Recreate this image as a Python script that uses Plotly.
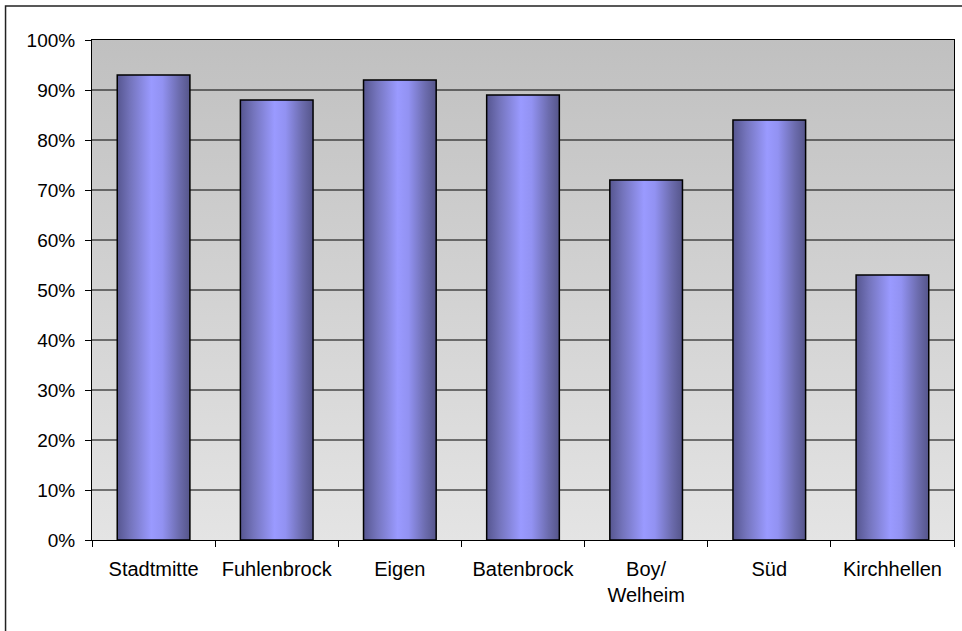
import plotly.graph_objects as go

# Share per district (fraction of 1)
districts = ["Stadtmitte", "Fuhlenbrock", "Eigen", "Batenbrock", "Boy/<br>Welheim", "Süd", "Kirchhellen"]
shares = [0.93, 0.88, 0.92, 0.89, 0.72, 0.84, 0.53]
y_ticks = [0.0, 0.1, 0.2, 0.3, 0.4, 0.5, 0.6, 0.7, 0.8, 0.9, 1.0]

FONT = "Liberation Sans, Arial, sans-serif"
BAR_HALF = 0.295
BAR_SCALE = [[0.0, "#565690"], [0.18, "#7474bc"], [0.47, "#9a9aff"],
             [0.62, "#9292f2"], [0.85, "#6c6cae"], [1.0, "#55558a"]]
BG_SCALE = [[0.0, "#e4e4e4"], [1.0, "#c0c0c0"]]

x_lo, x_hi = -0.5, len(districts) - 0.5
idx = list(range(len(districts)))

fig = go.Figure()

# Plain bars (base layer)
fig.add_trace(go.Bar(x=idx, y=shares, width=2 * BAR_HALF, marker=dict(color="#8080d8", line=dict(width=0)),
                     showlegend=False, hoverinfo="skip"))

# Plot-area background with vertical grey gradient
fig.add_trace(go.Scatter(
    x=[x_lo, x_hi, x_hi, x_lo, x_lo], y=[0, 0, 1, 1, 0],
    mode="lines", fill="toself", line=dict(width=0),
    fillgradient=dict(type="vertical", colorscale=BG_SCALE),
    showlegend=False, hoverinfo="skip"))

# Horizontal gridlines
gx, gy = [], []
for v in y_ticks[1:-1]:
    gx += [x_lo, x_hi, None]
    gy += [v, v, None]
fig.add_trace(go.Scatter(x=gx, y=gy, mode="lines", line=dict(color="black", width=1.2),
                         showlegend=False, hoverinfo="skip"))

# Bars with horizontal cylinder-like shading
for i, v in zip(idx, shares):
    x0, x1 = i - BAR_HALF, i + BAR_HALF
    fig.add_trace(go.Scatter(
        x=[x0, x1, x1, x0, x0], y=[0, 0, v, v, 0],
        mode="lines", fill="toself", line=dict(color="black", width=1.5),
        fillgradient=dict(type="horizontal", colorscale=BAR_SCALE),
        showlegend=False, hoverinfo="skip"))

fig.update_layout(
    width=962, height=631,
    margin=dict(l=92, r=8, t=40, b=91),
    paper_bgcolor="white", plot_bgcolor="white",
    font=dict(family=FONT, size=20, color="black"),
    showlegend=False,
    shapes=[dict(type="rect", xref="paper", yref="paper",
                 x0=-0.1003, x1=1.2, y0=-0.3, y1=1.068,
                 line=dict(color="#222222", width=1.5), fillcolor="rgba(0,0,0,0)", layer="above")],
)

fig.update_xaxes(
    range=[x_lo, x_hi], tickmode="array", tickvals=idx, ticktext=districts,
    ticks="", showgrid=False, zeroline=False,
    showline=True, linecolor="black", linewidth=1, mirror=True,
    tickfont=dict(size=20), ticklabelstandoff=11,
    minor=dict(tickmode="array", tickvals=[k - 0.5 for k in range(len(districts) + 1)],
               ticks="outside", ticklen=6, tickcolor="black", tickwidth=1, showgrid=False),
)
fig.update_yaxes(
    range=[0, 1], tickmode="array", tickvals=y_ticks, tickformat=".0%",
    ticks="outside", ticklen=6, tickcolor="black", tickwidth=1,
    showgrid=False, zeroline=False,
    showline=True, linecolor="black", linewidth=1, mirror=True,
    tickfont=dict(size=19), ticklabelstandoff=6,
)

fig.write_html("out.html")
